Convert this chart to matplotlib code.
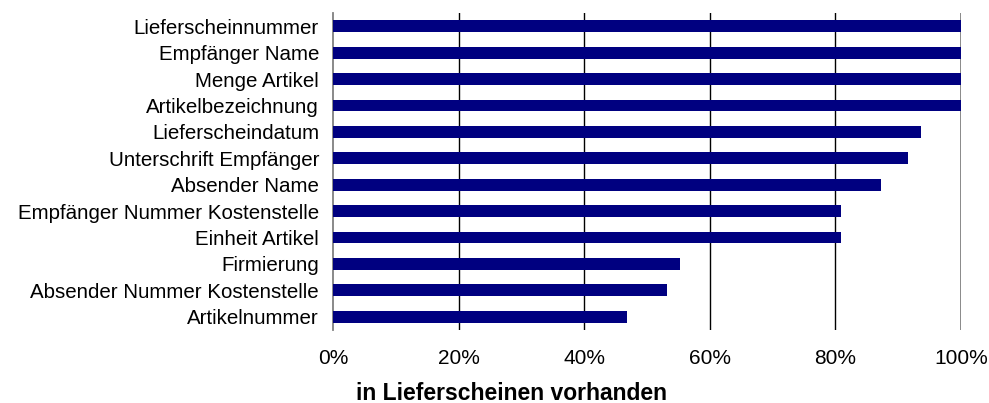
import matplotlib
matplotlib.use("Agg")
import matplotlib.pyplot as plt
from matplotlib.ticker import PercentFormatter

plt.rcParams['font.family'] = ['Liberation Sans', 'DejaVu Sans']

categories = [
    "Lieferscheinnummer",
    "Empfänger Name",
    "Menge Artikel",
    "Artikelbezeichnung",
    "Lieferscheindatum",
    "Unterschrift Empfänger",
    "Absender Name",
    "Empfänger Nummer Kostenstelle",
    "Einheit Artikel",
    "Firmierung",
    "Absender Nummer Kostenstelle",
    "Artikelnummer",
]
values = [1.0, 1.0, 1.0, 1.0, 0.936, 0.915, 0.872, 0.809, 0.809, 0.553, 0.532, 0.468]
xticks = [0, 0.2, 0.4, 0.6, 0.8, 1.0]
xlabel = "in Lieferscheinen vorhanden"

fig = plt.figure(figsize=(9.89, 4.03), dpi=100)
ax = fig.add_axes([333 / 989, 1 - 330 / 403, (961 - 333) / 989, (330 - 13) / 403])

ypos = list(range(len(categories)))
ax.barh(ypos, values, height=0.45, color="#000080", zorder=3)
ax.set_yticks(ypos)
ax.set_yticklabels(categories, fontsize=14.8)
ax.set_ylim(len(categories) - 0.5, -0.5)

ax.set_xlim(0, 1.0)
ax.set_xticks(xticks)
ax.xaxis.set_major_formatter(PercentFormatter(1.0, decimals=0))
ax.tick_params(axis="x", length=0, pad=14, labelsize=15)
ax.tick_params(axis="y", length=0, pad=10)

for x in xticks[1:-1]:
    ax.axvline(x, color="black", lw=1.0, zorder=1)
ax.axvline(xticks[-1], color="#808080", lw=1.3, zorder=1)

for s in ["top", "right", "bottom"]:
    ax.spines[s].set_visible(False)
ax.spines["left"].set_color("#808080")
ax.spines["left"].set_linewidth(1.3)

fig.text(512 / 989, 1 - 393 / 403, xlabel, ha="center", va="center",
         fontsize=16.5, fontweight="bold")

fig.savefig("out.png", dpi=100)
